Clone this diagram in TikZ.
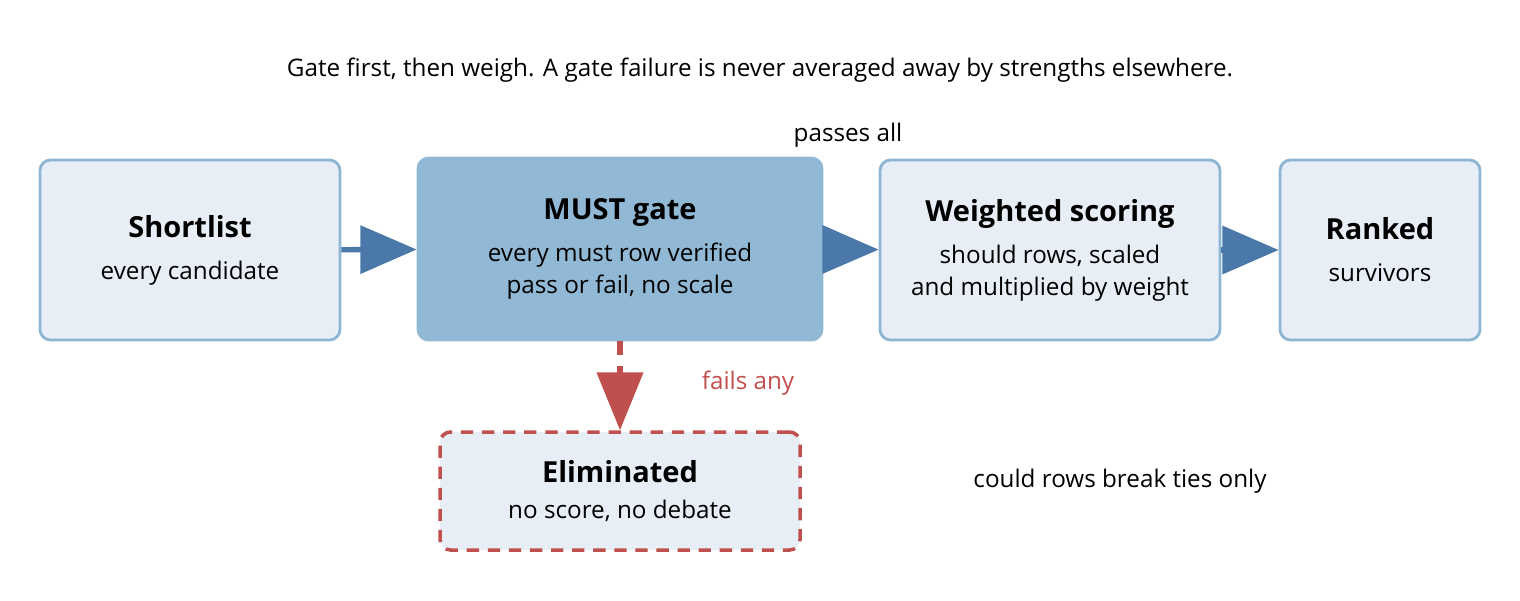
\documentclass[tikz,border=0pt]{standalone}
\usepackage{fontspec}
\setmainfont{Open Sans}
\usetikzlibrary{arrows.meta,positioning}
\definecolor{boxfill}{HTML}{E8EEF5}
\definecolor{boxline}{HTML}{8DB5D4}
\definecolor{gatefill}{HTML}{91B9D6}
\definecolor{flow}{HTML}{4A78A8}
\definecolor{fail}{HTML}{C0504D}
\tikzset{
  stage/.style={draw=boxline, fill=boxfill, line width=1.6pt, rounded corners=6pt, align=center, inner sep=0pt},
  flowarrow/.style={draw=flow, line width=3pt, -{Triangle[length=32pt,width=27pt]}},
}
\begin{document}
\begin{tikzpicture}[x=0.02cm, y=-0.02cm, font=\fontsize{13.8}{18}\selectfont]
  \useasboundingbox (0,0) rectangle (1520,600);
  \node at (760,70) {Gate first, then weigh. A gate failure is never averaged away by strengths elsewhere.};
  % stages
  \node[stage, minimum width=300*0.02cm, minimum height=180*0.02cm] (short) at (190,250)
    {{\fontsize{16.5}{20}\selectfont\bfseries Shortlist}\\[6pt]every candidate};
  \node[stage, draw=gatefill, fill=gatefill, minimum width=404*0.02cm, minimum height=182*0.02cm] (gate) at (620,249)
    {{\fontsize{16.5}{20}\selectfont\bfseries MUST gate}\\[6pt]every must row verified\\pass or fail, no scale};
  \node[stage, minimum width=340*0.02cm, minimum height=180*0.02cm] (weigh) at (1050,250)
    {{\fontsize{16.5}{20}\selectfont\bfseries Weighted scoring}\\[6pt]should rows, scaled\\and multiplied by weight};
  \node[stage, minimum width=200*0.02cm, minimum height=180*0.02cm] (ranked) at (1380,250)
    {{\fontsize{16.5}{20}\selectfont\bfseries Ranked}\\[6pt]survivors};
  \node[stage, draw=fail, line width=2pt, dash pattern=on 7pt off 5pt, minimum width=360*0.02cm, minimum height=118*0.02cm] (elim) at (620,491)
    {{\fontsize{16.5}{20}\selectfont\bfseries Eliminated}\\[2pt]no score, no debate};
  % connectors
  \draw[flowarrow] (short) -- (gate);
  \draw[flowarrow] (gate) -- (weigh);
  \draw[flowarrow] (weigh) -- (ranked);
  \draw[draw=fail, line width=3pt, dash pattern=on 8pt off 6pt, -{Triangle[length=33pt,width=26pt]}] (gate) -- (elim);
  % labels
  \node at (848,135) {passes all};
  \node[text=fail] at (748,383) {fails any};
  \node at (1120,481) {could rows break ties only};
\end{tikzpicture}
\end{document}
